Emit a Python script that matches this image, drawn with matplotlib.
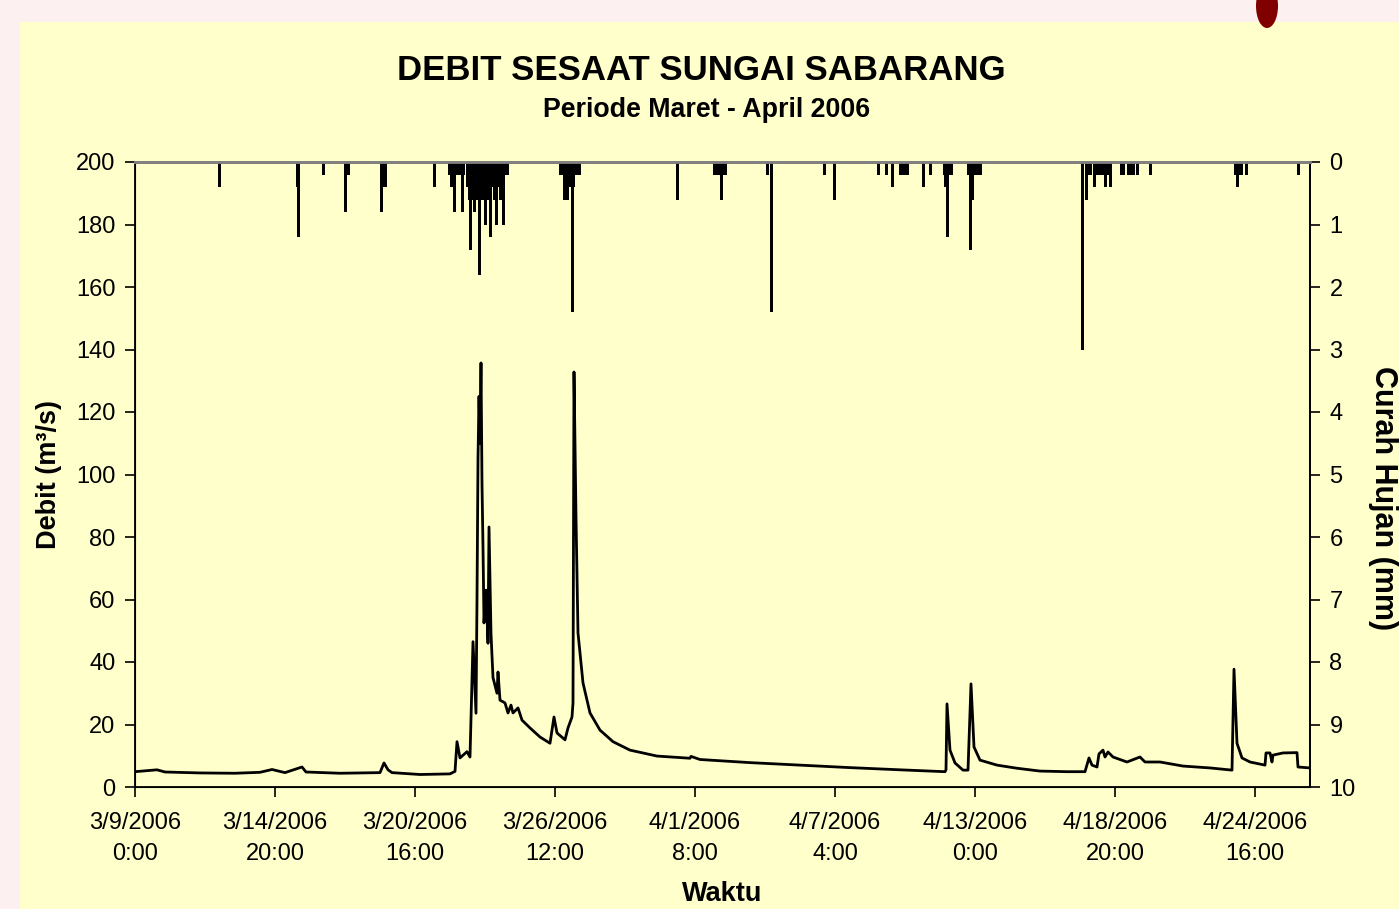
import matplotlib
matplotlib.use("Agg")
import matplotlib.pyplot as plt
from matplotlib.patches import Rectangle, Ellipse
import pandas as pd

plt.rcParams["font.family"] = ["Liberation Sans", "DejaVu Sans"]

# discharge, hours since 3/9/2006 0:00
q_hours = [0, 22, 30, 65, 100, 125, 137, 150, 167, 171, 205, 245, 249, 253, 257,
           285, 315, 320, 322, 325, 332, 335, 338, 341, 342, 343, 344, 345, 346,
           347, 348, 349, 351, 352, 353, 354, 356, 358, 362, 363, 365, 370, 373,
           376, 378, 383, 387, 395, 405, 415, 419, 422, 430, 433, 437, 438, 439,
           441, 443, 448, 455, 465, 478, 495, 522, 555, 556, 565, 615, 665, 715,
           765, 810, 811, 812, 815, 820, 828, 833, 836, 839, 845, 862, 882, 905,
           932, 950, 954, 957, 962, 964, 968, 970, 973, 978, 992, 1005, 1010,
           1025, 1048, 1075, 1097, 1099, 1102, 1107, 1115, 1130, 1131, 1135,
           1137, 1138, 1148, 1162, 1163, 1175]
q_values = [4.9, 5.5, 4.8, 4.5, 4.4, 4.7, 5.6, 4.6, 6.4, 4.8, 4.4, 4.6, 7.7, 5.5, 4.6,
            4.0, 4.2, 5.0, 14.5, 9.3, 11.3, 9.6, 46.5, 23.6, 60, 105, 125, 110, 135.7,
            97, 76.8, 52.5, 63, 55, 46, 83.2, 49, 35, 30, 36.8, 27.8, 26.9, 23.7,
            26.2, 23.7, 25.3, 21.4, 18.9, 16, 14, 22.4, 17.3, 15.1, 18.9, 22.4, 26.9, 132.8,
            86.4, 49.3, 33.3, 23.7, 18.2, 14.5, 11.8, 9.9, 9.2, 9.8, 8.8, 7.8, 7.0, 6.2,
            5.5, 4.9, 5.5, 26.6, 11.8, 7.7, 5.4, 5.4, 33, 12.8, 8.6, 7.0, 6.0, 5.1,
            4.9, 4.9, 9.3, 7.0, 6.4, 10.6, 11.8, 9.6, 11.2, 9.6, 8.0, 9.6, 8.0,
            8.0, 6.7, 6.1, 5.4, 37.7, 14.0, 9.3, 8.0, 7.0, 10.9, 10.9,
            8.0, 10.2, 10.9, 11.0, 6.4, 6.1]

# rainfall (mm), hours since 3/9/2006 0:00
rain_hours = [84, 162, 163, 188, 210, 212, 213, 246, 247, 248, 250, 299,
              314, 315, 316, 318, 319, 321, 324, 326, 327, 328,
              332, 333, 334, 335, 337, 339, 340, 341, 342, 344, 346, 347, 348, 350,
              352, 353, 355, 357, 358, 359, 361, 363, 365, 366, 368, 370, 372,
              425, 427, 429, 430, 432, 433, 435, 437, 438, 440, 442, 444,
              542, 579, 582, 585, 586, 587, 589, 590, 632, 636, 689, 699,
              743, 751, 757, 765, 768, 770, 772, 788, 795,
              809, 810, 812, 814, 816, 833, 835, 837, 839, 841, 843, 845,
              947, 951, 953, 955, 959, 961, 963, 965, 967, 970, 973, 975,
              986, 988, 993, 996, 998, 1002, 1015,
              1100, 1102, 1104, 1106, 1111, 1163]
rain_mm = [0.4, 0.4, 1.2, 0.2, 0.8, 0.2, 0.2, 0.8, 0.4, 0.4, 0.4, 0.4,
           0.2, 0.2, 0.4, 0.4, 0.8, 0.2, 0.2, 0.2, 0.8, 0.2,
           0.4, 0.4, 0.6, 1.4, 0.6, 0.8, 0.6, 0.6, 0.4, 1.8, 0.6, 0.4, 0.6, 1.0,
           0.4, 0.6, 1.2, 0.4, 0.4, 0.6, 1.0, 0.4, 0.6, 0.4, 1.0, 0.2, 0.2,
           0.2, 0.2, 0.6, 0.2, 0.6, 0.2, 0.4, 2.4, 0.4, 0.2, 0.2, 0.2,
           0.6, 0.2, 0.2, 0.2, 0.6, 0.2, 0.2, 0.2, 0.2, 2.4, 0.2, 0.6,
           0.2, 0.2, 0.4, 0.2, 0.2, 0.2, 0.2, 0.4, 0.2,
           0.2, 0.4, 1.2, 0.2, 0.2, 0.2, 1.4, 0.6, 0.2, 0.2, 0.2, 0.2,
           3.0, 0.6, 0.2, 0.2, 0.4, 0.2, 0.2, 0.2, 0.2, 0.4, 0.2, 0.4,
           0.2, 0.2, 0.2, 0.2, 0.2, 0.2, 0.2,
           0.2, 0.4, 0.2, 0.2, 0.2, 0.2]

start = pd.Timestamp("2006-03-09 00:00")
tick_hours = list(range(0, 1121, 140))
tick_labels = []
for h in tick_hours:
    t = start + pd.Timedelta(hours=h)
    tick_labels.append(f"{t.month}/{t.day}/{t.year}\n{t.hour}:{t.minute:02d}")

W, H = 1399, 909
fig = plt.figure(figsize=(W / 100, H / 100), dpi=100, facecolor="#FDF0F0")
fig.patches.append(Rectangle((20 / W, 0), 1 - 20 / W, 1 - 22 / H,
                             transform=fig.transFigure, facecolor="#FFFFCC",
                             edgecolor="none", zorder=-2))
fig.patches.append(Ellipse((1267 / W, 1 - 6 / H), 22 / W, 44 / H,
                           transform=fig.transFigure, facecolor="#800000",
                           edgecolor="none", zorder=-1))

ax = fig.add_axes([135 / W, 1 - 787 / H, 1175 / W, 625 / H])
ax.set_facecolor("#FFFFCC")
ax.plot(q_hours, q_values, color="black", lw=2, zorder=3)
ax.set_xlim(0, 1175)
ax.set_ylim(0, 200)
ax.set_yticks(range(0, 201, 20))
ax.set_xticks(tick_hours)
ax.set_xticklabels(tick_labels, linespacing=1.5)
ax.tick_params(axis="both", labelsize=17, direction="out", length=7, width=1.2)
ax.tick_params(axis="x", pad=11)
ax.tick_params(axis="y", pad=7)
ax.spines["top"].set_color("#808080")
ax.spines["top"].set_linewidth(2)
for s in ("left", "bottom", "right"):
    ax.spines[s].set_linewidth(1.3)
ax.set_ylabel("Debit (m³/s)", fontsize=19.5, fontweight="bold", labelpad=10)
ax.set_xlabel("Waktu", fontsize=19.5, fontweight="bold", labelpad=12)

ax2 = ax.twinx()
ax2.bar(rain_hours, rain_mm, width=3, color="black", linewidth=0, align="center")
ax2.set_ylim(10, 0)
ax2.set_yticks(range(0, 11))
ax2.tick_params(axis="y", labelsize=17, direction="out", length=7, width=1.2, pad=7)
ax2.spines["top"].set_color("#808080")
ax2.spines["top"].set_linewidth(2)
ax2.spines["right"].set_linewidth(1.3)
ax2.set_ylabel("Curah Hujan (mm)", fontsize=22, fontweight="bold",
               rotation=270, va="center")
ax2.yaxis.set_label_coords(1.062, 0.462)

fig.text(701 / W, 1 - 70 / H, "DEBIT SESAAT SUNGAI SABARANG", ha="center",
         va="center", fontsize=25, fontweight="bold")
fig.text(707 / W, 1 - 110 / H, "Periode Maret - April 2006", ha="center",
         va="center", fontsize=19.3, fontweight="bold")

fig.savefig("out.png", dpi=100, facecolor=fig.get_facecolor())
